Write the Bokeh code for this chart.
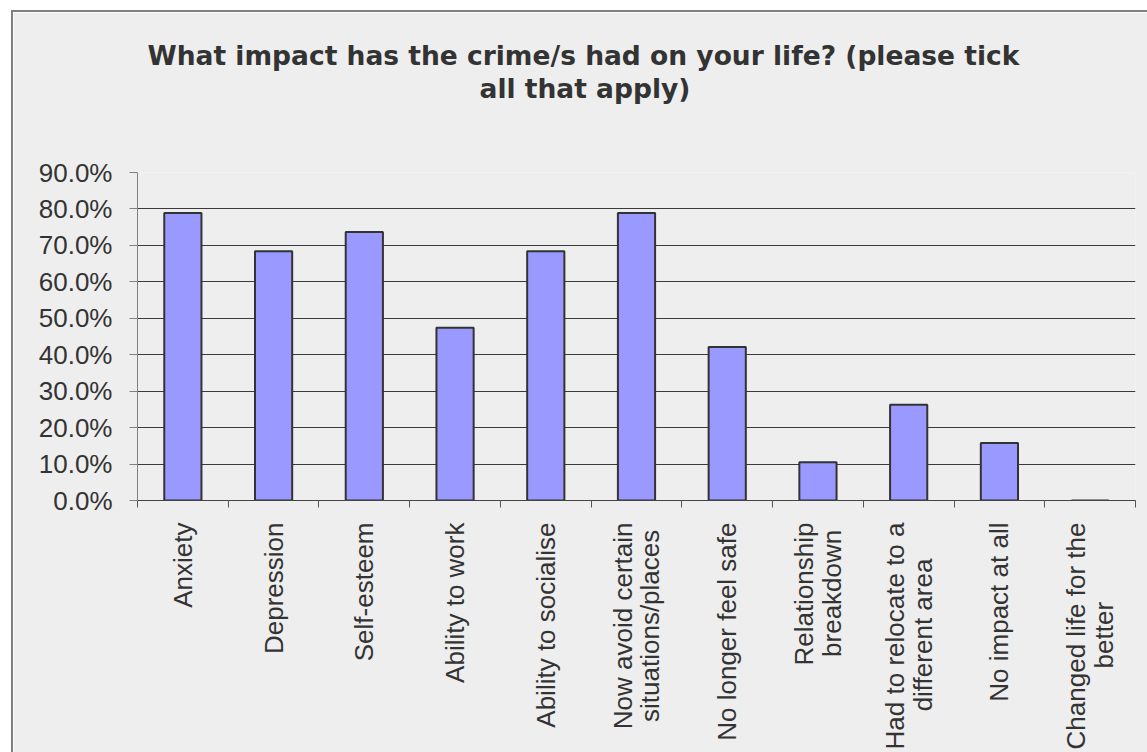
import math
from bokeh.plotting import figure
from bokeh.models import Range1d, FixedTicker, PrintfTickFormatter, Title, Spacer
from bokeh.layouts import row, column
from bokeh.embed import file_html
from bokeh.resources import INLINE

# ---- data ----
categories = [
    "Anxiety",
    "Depression",
    "Self-esteem",
    "Ability to work",
    "Ability to socialise",
    "Now avoid certain\nsituations/places",
    "No longer feel safe",
    "Relationship\nbreakdown",
    "Had to relocate to a\ndifferent area",
    "No impact at all",
    "Changed life for the\nbetter",
]
percent = [78.9, 68.4, 73.7, 47.4, 68.4, 78.9, 42.1, 10.5, 26.3, 15.8, 0.0]
y_ticks = [0, 10, 20, 30, 40, 50, 60, 70, 80, 90]
title_lines = [
    "What impact has the crime/s had on your life? (please tick",
    "all that apply)",
]

# ---- styling ----
BG = "#eeeeee"
TXT = "#333333"
BORDER = "#808080"
# non-breaking-space padding so the shorter second line of a wrapped,
# rotated label sits centred under the first line (Bokeh aligns lines to the axis side)
second_line_pad = [0, 0, 0, 0, 0, 1, 0, 1, 5, 0, 11]

n = len(categories)
centers = [i + 0.5 for i in range(n)]
boundaries = list(range(n + 1))


def display_label(text, pad):
    parts = text.split("\n")
    if len(parts) > 1 and pad:
        parts[-1] = parts[-1] + "\u00a0" * pad
    return "\n".join(parts)


labels = [display_label(t, k) for t, k in zip(categories, second_line_pad)]

p = figure(
    width=1134, height=740,
    x_range=Range1d(0, n), y_range=Range1d(y_ticks[0], y_ticks[-1]),
    min_border_left=124, min_border_right=12,
    min_border_top=160, min_border_bottom=252,
    background_fill_color=BG, border_fill_color=BG,
    outline_line_color=None,
    toolbar_location=None, output_backend="svg", title=None,
)

p.vbar(x=centers, top=percent, bottom=0, width=0.41,
       fill_color="#9999ff", line_color="#333333", line_width=2)

# y axis
p.yaxis.ticker = FixedTicker(ticks=y_ticks)
p.yaxis.formatter = PrintfTickFormatter(format="%.1f%%")
p.yaxis.major_tick_out = 8
p.yaxis.major_tick_in = 0
p.yaxis.minor_tick_line_color = None
p.yaxis.axis_line_color = BORDER
p.yaxis.major_tick_line_color = BORDER
p.yaxis.major_label_standoff = 17
p.yaxis.major_label_text_font = "Liberation Sans"
p.yaxis.major_label_text_font_size = "26px"
p.yaxis.major_label_text_color = TXT

p.ygrid.ticker = FixedTicker(ticks=y_ticks)
p.ygrid.grid_line_color = "#3a3a3a"
p.ygrid.grid_line_width = 1
p.xgrid.grid_line_color = None

# x axis
p.xaxis.ticker = FixedTicker(ticks=centers, minor_ticks=boundaries)
p.xaxis.major_label_overrides = {c: lab for c, lab in zip(centers, labels)}
p.xaxis.major_tick_out = 0
p.xaxis.major_tick_in = 0
p.xaxis.minor_tick_out = 7
p.xaxis.minor_tick_in = 0
p.xaxis.minor_tick_line_color = "#555555"
p.xaxis.axis_line_color = "#444444"
p.xaxis.major_label_orientation = math.pi / 2
p.xaxis.major_label_standoff = 15
p.xaxis.major_label_text_font = "Liberation Sans"
p.xaxis.major_label_text_font_size = "26px"
p.xaxis.major_label_text_color = TXT
p.xaxis.major_label_text_line_height = 0.93

# titles: a thin spacer title next to the frame, then line 2, then line 1
common = dict(text_font="DejaVu Sans", text_font_style="bold",
              text_font_size="26.5px", text_color=TXT, align="left")
p.add_layout(Title(text=" ", text_font_size="1px", standoff=66), "above")
p.add_layout(Title(text=title_lines[1], offset=342, standoff=0, **common), "above")
p.add_layout(Title(text=title_lines[0], offset=10, standoff=0, **common), "above")

line = {"background-color": BORDER}
top_line = row(Spacer(width=11, height=2), Spacer(width=1136, height=2, styles=line))
body = row(Spacer(width=11, height=740), Spacer(width=2, height=740, styles=line), p)
layout = column(Spacer(width=1147, height=10), top_line, body)

open("out.html", "w").write(file_html(layout, INLINE))
